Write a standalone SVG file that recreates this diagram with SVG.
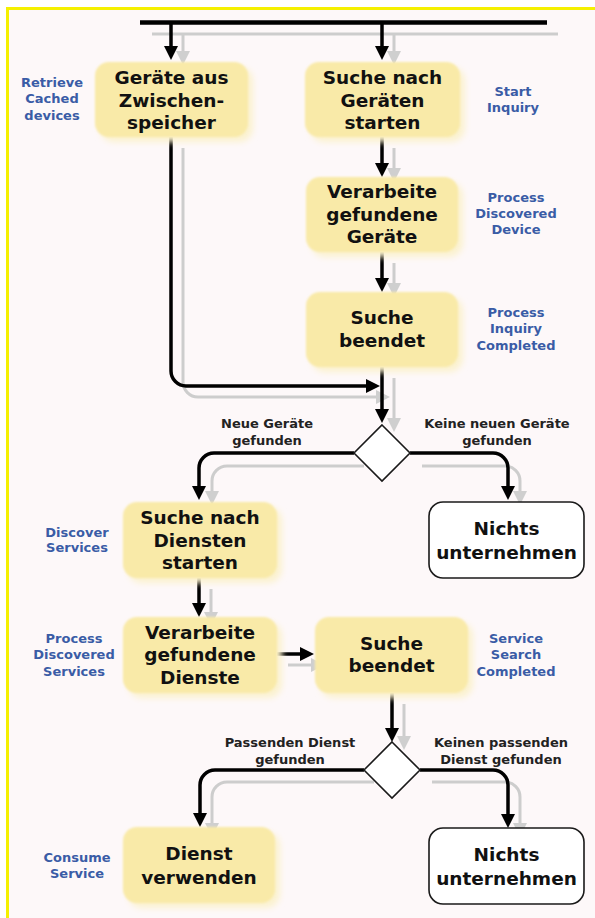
<svg xmlns="http://www.w3.org/2000/svg" width="595" height="918" viewBox="0 0 595 918">
<defs>
<filter id="soft" x="-10%" y="-10%" width="120%" height="120%"><feGaussianBlur stdDeviation="1.2"/></filter>
<filter id="haze" x="-20%" y="-20%" width="140%" height="140%"><feGaussianBlur stdDeviation="3"/></filter>
<marker id="ah" markerUnits="userSpaceOnUse" markerWidth="15" markerHeight="15" refX="10" refY="7" orient="auto"><path d="M0,0 L14,7 L0,14 z" fill="#000"/></marker>
<marker id="ahg" markerUnits="userSpaceOnUse" markerWidth="15" markerHeight="15" refX="10" refY="7" orient="auto"><path d="M0,0 L14,7 L0,14 z" fill="#cfcfcf"/></marker>
<style>
.blk{fill:none;stroke:#000;stroke-width:3.5;marker-end:url(#ah)}
.gry{fill:none;stroke:#cdcdcd;stroke-width:3;marker-end:url(#ahg)}
.box{fill:#f9eaa8;filter:url(#soft)}
.hz{fill:#fbf2cf;filter:url(#haze)}
.wbox{fill:#fff;stroke:#1a1a1a;stroke-width:1.6}
.nt{font-family:"DejaVu Sans",Verdana,sans-serif;font-weight:bold;font-size:18.5px;fill:#111;text-anchor:middle}
.bl{font-family:"DejaVu Sans",Verdana,sans-serif;font-weight:bold;font-size:13px;fill:#3a5ca6;text-anchor:middle}
.br{font-family:"DejaVu Sans",Verdana,sans-serif;font-weight:bold;font-size:13px;fill:#222;text-anchor:middle}
.dm{fill:#fff;stroke:#1a1a1a;stroke-width:1.6}
</style>
</defs>
<rect x="0" y="0" width="595" height="918" fill="#fff"/>
<rect x="6" y="7" width="589" height="911" fill="#fdf8f9"/>
<rect x="6" y="7" width="589" height="3" fill="#f5f000"/>
<rect x="6" y="7" width="3" height="911" fill="#f5f000"/>

<g id="connectors">
<line x1="152" y1="34" x2="558" y2="34" stroke="#cdcdcd" stroke-width="3"/>
<path class="gry" d="M183,34 V61"/>
<path class="gry" d="M394,34 V61"/>
<path class="gry" d="M394,148 V178"/>
<path class="gry" d="M394,263 V293"/>
<path class="gry" d="M183,148 V382 A15,15 0 0 0 198,397 H386"/>
<path class="gry" d="M394,378 V428"/>
<path class="gry" d="M364,466 H227 A15,15 0 0 0 212,481 V501"/>
<path class="gry" d="M422,466 H505 A15,15 0 0 1 520,481 V501"/>
<path class="gry" d="M211,589 V622"/>
<path class="gry" d="M288,665 H321"/>
<path class="gry" d="M404,704 V746"/>
<path class="gry" d="M374,782 H227 A15,15 0 0 0 212,797 V833"/>
<path class="gry" d="M432,782 H505 A15,15 0 0 1 520,797 V833"/>

<line x1="140" y1="22.5" x2="547" y2="22.5" stroke="#000" stroke-width="4.5"/>
<path class="blk" d="M171,23 V56"/>
<path class="blk" d="M382,23 V56"/>
<path class="blk" d="M382,137 V173"/>
<path class="blk" d="M382,252 V288"/>
<path class="blk" d="M171,137 V371 A15,15 0 0 0 186,386 H376"/>
<path class="blk" d="M382,367 V419"/>
<path class="blk" d="M354,453 H214 A15,15 0 0 0 199,468 V496"/>
<path class="blk" d="M410,453 H493 A15,15 0 0 1 508,468 V496"/>
<path class="blk" d="M199,578 V613"/>
<path class="blk" d="M277,654 H310"/>
<path class="blk" d="M392,693 V738"/>
<path class="blk" d="M364,770 H215 A15,15 0 0 0 200,785 V823"/>
<path class="blk" d="M420,770 H493 A15,15 0 0 1 508,785 V824"/>
</g>

<g id="n1">
<rect class="hz" x="100" y="67" width="153" height="75" rx="14"/>
<rect class="box" x="95" y="62" width="153" height="75" rx="14"/>
<text class="nt" x="171.5" y="84">Geräte aus</text>
<text class="nt" x="171.5" y="106.5">Zwischen-</text>
<text class="nt" x="171.5" y="129">speicher</text>
<text class="bl" x="52" y="86.5">Retrieve</text>
<text class="bl" x="52" y="103">Cached</text>
<text class="bl" x="52" y="119.5">devices</text>
</g>

<g id="n2">
<rect class="hz" x="310" y="67" width="155" height="75" rx="14"/>
<rect class="box" x="305" y="62" width="155" height="75" rx="14"/>
<text class="nt" x="382.5" y="84">Suche nach</text>
<text class="nt" x="382.5" y="106.5">Geräten</text>
<text class="nt" x="382.5" y="129">starten</text>
<text class="bl" x="513" y="95.5">Start</text>
<text class="bl" x="513" y="111.5">Inquiry</text>
</g>

<g id="n3">
<rect class="hz" x="311" y="182" width="152" height="75" rx="14"/>
<rect class="box" x="306" y="177" width="152" height="75" rx="14"/>
<text class="nt" x="382" y="198">Verarbeite</text>
<text class="nt" x="382" y="220.5">gefundene</text>
<text class="nt" x="382" y="243">Geräte</text>
<text class="bl" x="516" y="201.5">Process</text>
<text class="bl" x="516" y="217.5">Discovered</text>
<text class="bl" x="516" y="233.5">Device</text>
</g>

<g id="n4">
<rect class="hz" x="311" y="297" width="152" height="75" rx="14"/>
<rect class="box" x="306" y="292" width="152" height="75" rx="14"/>
<text class="nt" x="382" y="324">Suche</text>
<text class="nt" x="382" y="346.5">beendet</text>
<text class="bl" x="516" y="316.5">Process</text>
<text class="bl" x="516" y="332.5">Inquiry</text>
<text class="bl" x="516" y="349.5">Completed</text>
</g>

<g id="d1">
<polygon class="dm" points="382,425 410,453 382,481 354,453"/>
<text class="br" x="267" y="427.5">Neue Geräte</text>
<text class="br" x="267" y="444.5">gefunden</text>
<text class="br" x="497" y="427.5">Keine neuen Geräte</text>
<text class="br" x="497" y="444.5">gefunden</text>
</g>

<g id="n5">
<rect class="hz" x="128" y="507" width="154" height="76" rx="14"/>
<rect class="box" x="123" y="502" width="154" height="76" rx="14"/>
<text class="nt" x="200" y="523.5">Suche nach</text>
<text class="nt" x="200" y="546.5">Diensten</text>
<text class="nt" x="200" y="568.5">starten</text>
<text class="bl" x="77" y="536.5">Discover</text>
<text class="bl" x="77" y="551.5">Services</text>
</g>

<g id="x1">
<rect class="wbox" x="429" y="502" width="155" height="76" rx="14"/>
<text class="nt" x="506.5" y="534.5">Nichts</text>
<text class="nt" x="506.5" y="558.5">unternehmen</text>
</g>

<g id="n6">
<rect class="hz" x="128" y="622" width="154" height="76" rx="14"/>
<rect class="box" x="123" y="617" width="154" height="76" rx="14"/>
<text class="nt" x="200" y="638.5">Verarbeite</text>
<text class="nt" x="200" y="661">gefundene</text>
<text class="nt" x="200" y="683.5">Dienste</text>
<text class="bl" x="74" y="642.5">Process</text>
<text class="bl" x="74" y="658.5">Discovered</text>
<text class="bl" x="74" y="675.5">Services</text>
</g>

<g id="n7">
<rect class="hz" x="320" y="622" width="153" height="76" rx="14"/>
<rect class="box" x="315" y="617" width="153" height="76" rx="14"/>
<text class="nt" x="391.5" y="649.5">Suche</text>
<text class="nt" x="391.5" y="671.5">beendet</text>
<text class="bl" x="516" y="642.5">Service</text>
<text class="bl" x="516" y="658.5">Search</text>
<text class="bl" x="516" y="675.5">Completed</text>
</g>

<g id="d2">
<polygon class="dm" points="392,742 420,770 392,798 364,770"/>
<text class="br" x="290" y="746.5">Passenden Dienst</text>
<text class="br" x="290" y="763.5">gefunden</text>
<text class="br" x="501" y="746.5">Keinen passenden</text>
<text class="br" x="501" y="763.5">Dienst gefunden</text>
</g>

<g id="n8">
<rect class="hz" x="128" y="832" width="152" height="76" rx="14"/>
<rect class="box" x="123" y="827" width="152" height="76" rx="14"/>
<text class="nt" x="199" y="859.5">Dienst</text>
<text class="nt" x="199" y="883.5">verwenden</text>
<text class="bl" x="77" y="861.5">Consume</text>
<text class="bl" x="77" y="877.5">Service</text>
</g>

<g id="x2">
<rect class="wbox" x="429" y="828" width="155" height="76" rx="14"/>
<text class="nt" x="506.5" y="861">Nichts</text>
<text class="nt" x="506.5" y="885">unternehmen</text>
</g>
</svg>
